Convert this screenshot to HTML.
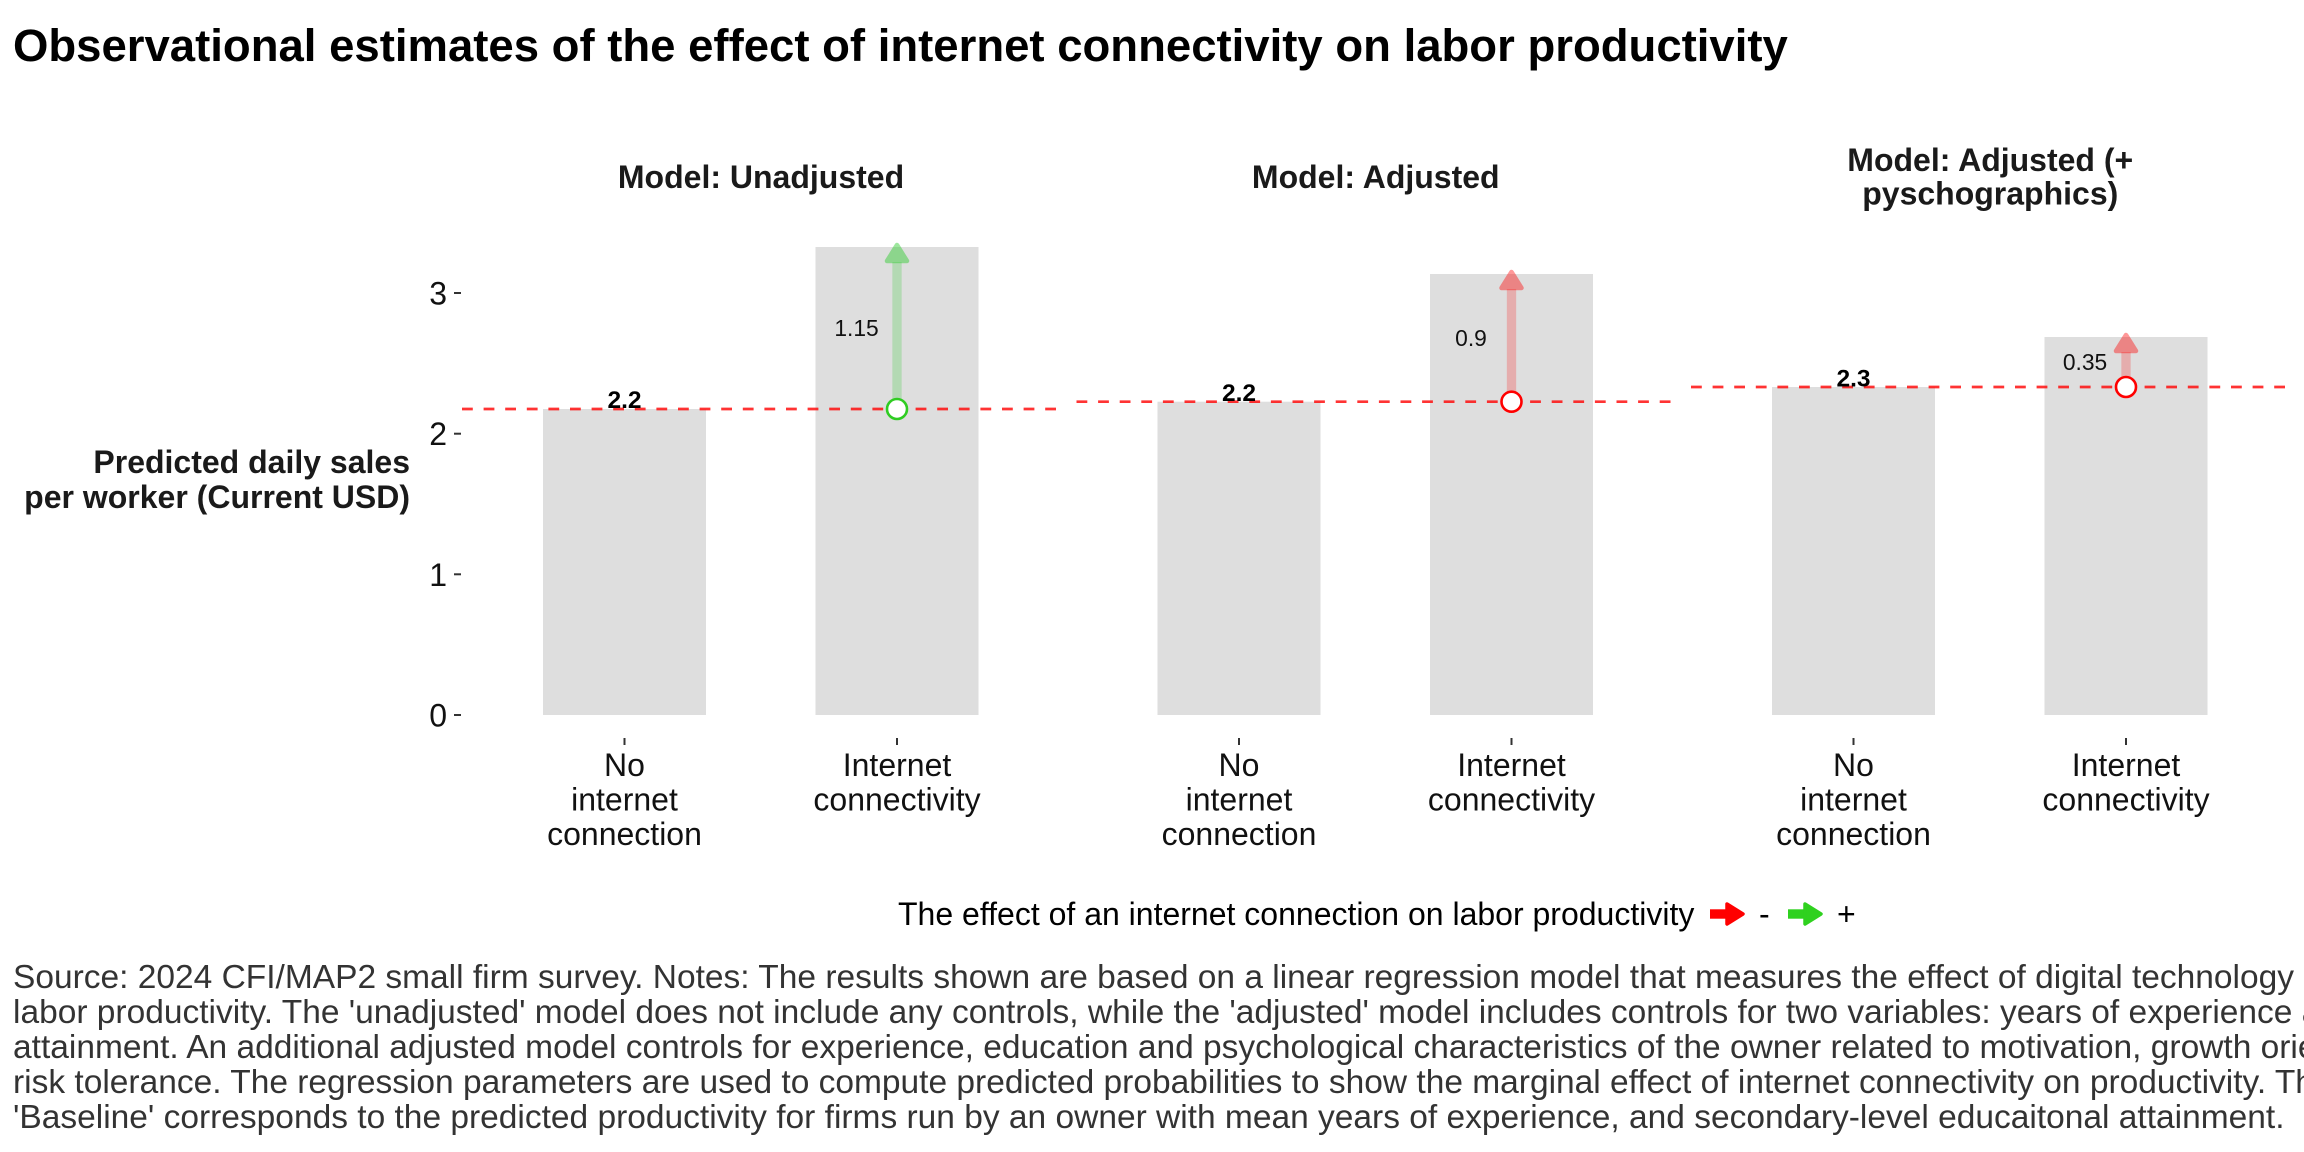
<!DOCTYPE html>
<html>
<head>
<meta charset="utf-8">
<style>
  html, body { margin:0; padding:0; background:#ffffff; }
  body { width:2304px; height:1152px; overflow:hidden; }
  svg { display:block; }
  text { font-family: "Liberation Sans", Arial, Helvetica, sans-serif; }
</style>
</head>
<body>
<svg width="2304" height="1152" viewBox="0 0 2304 1152" xmlns="http://www.w3.org/2000/svg">
  <rect x="0" y="0" width="2304" height="1152" fill="#ffffff"/>

  <!-- Title -->
  <text x="13" y="61" font-size="45.5" font-weight="bold" fill="#000">Observational estimates of the effect of internet connectivity on labor productivity</text>

  <!-- Facet strips -->
  <text x="761" y="188" font-size="32" font-weight="bold" fill="#1a1a1a" text-anchor="middle">Model: Unadjusted</text>
  <text x="1375.75" y="188" font-size="32" font-weight="bold" fill="#1a1a1a" text-anchor="middle">Model: Adjusted</text>
  <text x="1990.25" y="171" font-size="32" font-weight="bold" fill="#1a1a1a" text-anchor="middle">Model: Adjusted (+</text>
  <text x="1990.25" y="204.5" font-size="32" font-weight="bold" fill="#1a1a1a" text-anchor="middle">pyschographics)</text>

  <!-- Y axis title -->
  <text x="410" y="473" font-size="32" font-weight="bold" fill="#1a1a1a" text-anchor="end">Predicted daily sales</text>
  <text x="410" y="508" font-size="32" font-weight="bold" fill="#1a1a1a" text-anchor="end">per worker (Current USD)</text>

  <!-- Y ticks -->
  <g font-size="32" fill="#111" text-anchor="end">
    <text x="447" y="304.5">3</text>
    <text x="447" y="445">2</text>
    <text x="447" y="586">1</text>
    <text x="447" y="726.5">0</text>
  </g>
  <g stroke="#333" stroke-width="2">
    <line x1="454" y1="293" x2="461" y2="293"/>
    <line x1="454" y1="433.7" x2="461" y2="433.7"/>
    <line x1="454" y1="574.3" x2="461" y2="574.3"/>
    <line x1="454" y1="715" x2="461" y2="715"/>
  </g>

  <!-- X ticks -->
  <g stroke="#333" stroke-width="2">
    <line x1="624.5" y1="738" x2="624.5" y2="745"/>
    <line x1="897" y1="738" x2="897" y2="745"/>
    <line x1="1239" y1="738" x2="1239" y2="745"/>
    <line x1="1511.5" y1="738" x2="1511.5" y2="745"/>
    <line x1="1853.5" y1="738" x2="1853.5" y2="745"/>
    <line x1="2126" y1="738" x2="2126" y2="745"/>
  </g>

  <!-- X labels -->
  <g font-size="32" fill="#111" text-anchor="middle">
    <text x="624.5" y="776">No</text>
    <text x="624.5" y="810.6">internet</text>
    <text x="624.5" y="845.2">connection</text>
    <text x="897" y="776">Internet</text>
    <text x="897" y="810.6">connectivity</text>

    <text x="1239" y="776">No</text>
    <text x="1239" y="810.6">internet</text>
    <text x="1239" y="845.2">connection</text>
    <text x="1511.5" y="776">Internet</text>
    <text x="1511.5" y="810.6">connectivity</text>

    <text x="1853.5" y="776">No</text>
    <text x="1853.5" y="810.6">internet</text>
    <text x="1853.5" y="845.2">connection</text>
    <text x="2126" y="776">Internet</text>
    <text x="2126" y="810.6">connectivity</text>
  </g>

  <!-- Bars -->
  <g fill="#dedede">
    <rect x="543" y="409" width="163" height="306"/>
    <rect x="815.5" y="247" width="163" height="468"/>
    <rect x="1157.5" y="401.7" width="163" height="313.3"/>
    <rect x="1430" y="274" width="163" height="441"/>
    <rect x="1772" y="387" width="163" height="328"/>
    <rect x="2044.5" y="337" width="163" height="378"/>
  </g>

  <!-- Dashed baselines -->
  <g stroke="#ff0000" stroke-opacity="0.8" stroke-width="2.7" stroke-dasharray="10.8 10.8" fill="none">
    <line x1="462" y1="409" x2="1060.5" y2="409"/>
    <line x1="1076.5" y1="401.7" x2="1675" y2="401.7"/>
    <line x1="1691" y1="387" x2="2289.5" y2="387"/>
  </g>

  <!-- Arrows: panel 1 (green) -->
  <rect x="892.35" y="262" width="9.3" height="147" fill="#32cd32" fill-opacity="0.25"/>
  <g opacity="0.47">
    <polygon points="897,245 907,261 887,261" fill="#32cd32" stroke="#32cd32" stroke-width="4.5" stroke-linejoin="round"/>
  </g>
  <!-- panel 2 (red) -->
  <rect x="1506.85" y="289" width="9.3" height="112.7" fill="#ff0000" fill-opacity="0.22"/>
  <g opacity="0.4">
    <polygon points="1511.5,272 1521.5,288 1501.5,288" fill="#ff0000" stroke="#ff0000" stroke-width="4.5" stroke-linejoin="round"/>
  </g>
  <!-- panel 3 (red) -->
  <rect x="2121.35" y="352" width="9.3" height="35" fill="#ff0000" fill-opacity="0.22"/>
  <g opacity="0.4">
    <polygon points="2126,335 2136,351 2116,351" fill="#ff0000" stroke="#ff0000" stroke-width="4.5" stroke-linejoin="round"/>
  </g>

  <!-- Circles -->
  <circle cx="897" cy="409" r="10" fill="#ffffff" stroke="#2fcc22" stroke-width="2.6"/>
  <circle cx="1511.5" cy="401.7" r="10" fill="#ffffff" stroke="#ff0000" stroke-width="2.6"/>
  <circle cx="2126" cy="387" r="10" fill="#ffffff" stroke="#ff0000" stroke-width="2.6"/>

  <!-- Value labels -->
  <g font-size="24.5" font-weight="bold" fill="#000" text-anchor="middle">
    <text x="624.5" y="408">2.2</text>
    <text x="1239" y="401">2.2</text>
    <text x="1853.5" y="386.5">2.3</text>
  </g>
  <g font-size="22.8" fill="#111" text-anchor="middle">
    <text x="856.5" y="336.2">1.15</text>
    <text x="1471" y="346">0.9</text>
    <text x="2085" y="370.2">0.35</text>
  </g>

  <!-- Legend -->
  <text x="898" y="925" font-size="32" fill="#000">The effect of an internet connection on labor productivity</text>
  <g>
    <rect x="1710" y="909.3" width="17" height="9.4" fill="#ff0000"/>
    <polygon points="1727,904 1743,914 1727,924" fill="#ff0000" stroke="#ff0000" stroke-width="3.5" stroke-linejoin="round"/>
    <text x="1759" y="925" font-size="32" fill="#000">-</text>
    <rect x="1788" y="909.3" width="17" height="9.4" fill="#2fd11f"/>
    <polygon points="1805,904 1821,914 1805,924" fill="#2fd11f" stroke="#2fd11f" stroke-width="3.5" stroke-linejoin="round"/>
    <text x="1837" y="925" font-size="32" fill="#000">+</text>
  </g>

  <!-- Caption -->
  <g font-size="33.5" fill="#333">
    <text x="13" y="988">Source: 2024 CFI/MAP2 small firm survey. Notes: The results shown are based on a linear regression model that measures the effect of digital technology on</text>
    <text x="13" y="1023">labor productivity. The 'unadjusted' model does not include any controls, while the 'adjusted' model includes controls for two variables: years of experience and educational</text>
    <text x="13" y="1058">attainment. An additional adjusted model controls for experience, education and psychological characteristics of the owner related to motivation, growth orientation and</text>
    <text x="13" y="1093">risk tolerance. The regression parameters are used to compute predicted probabilities to show the marginal effect of internet connectivity on productivity. The</text>
    <text x="13" y="1128">'Baseline' corresponds to the predicted productivity for firms run by an owner with mean years of experience, and secondary-level educaitonal attainment.</text>
  </g>
</svg>
</body>
</html>
